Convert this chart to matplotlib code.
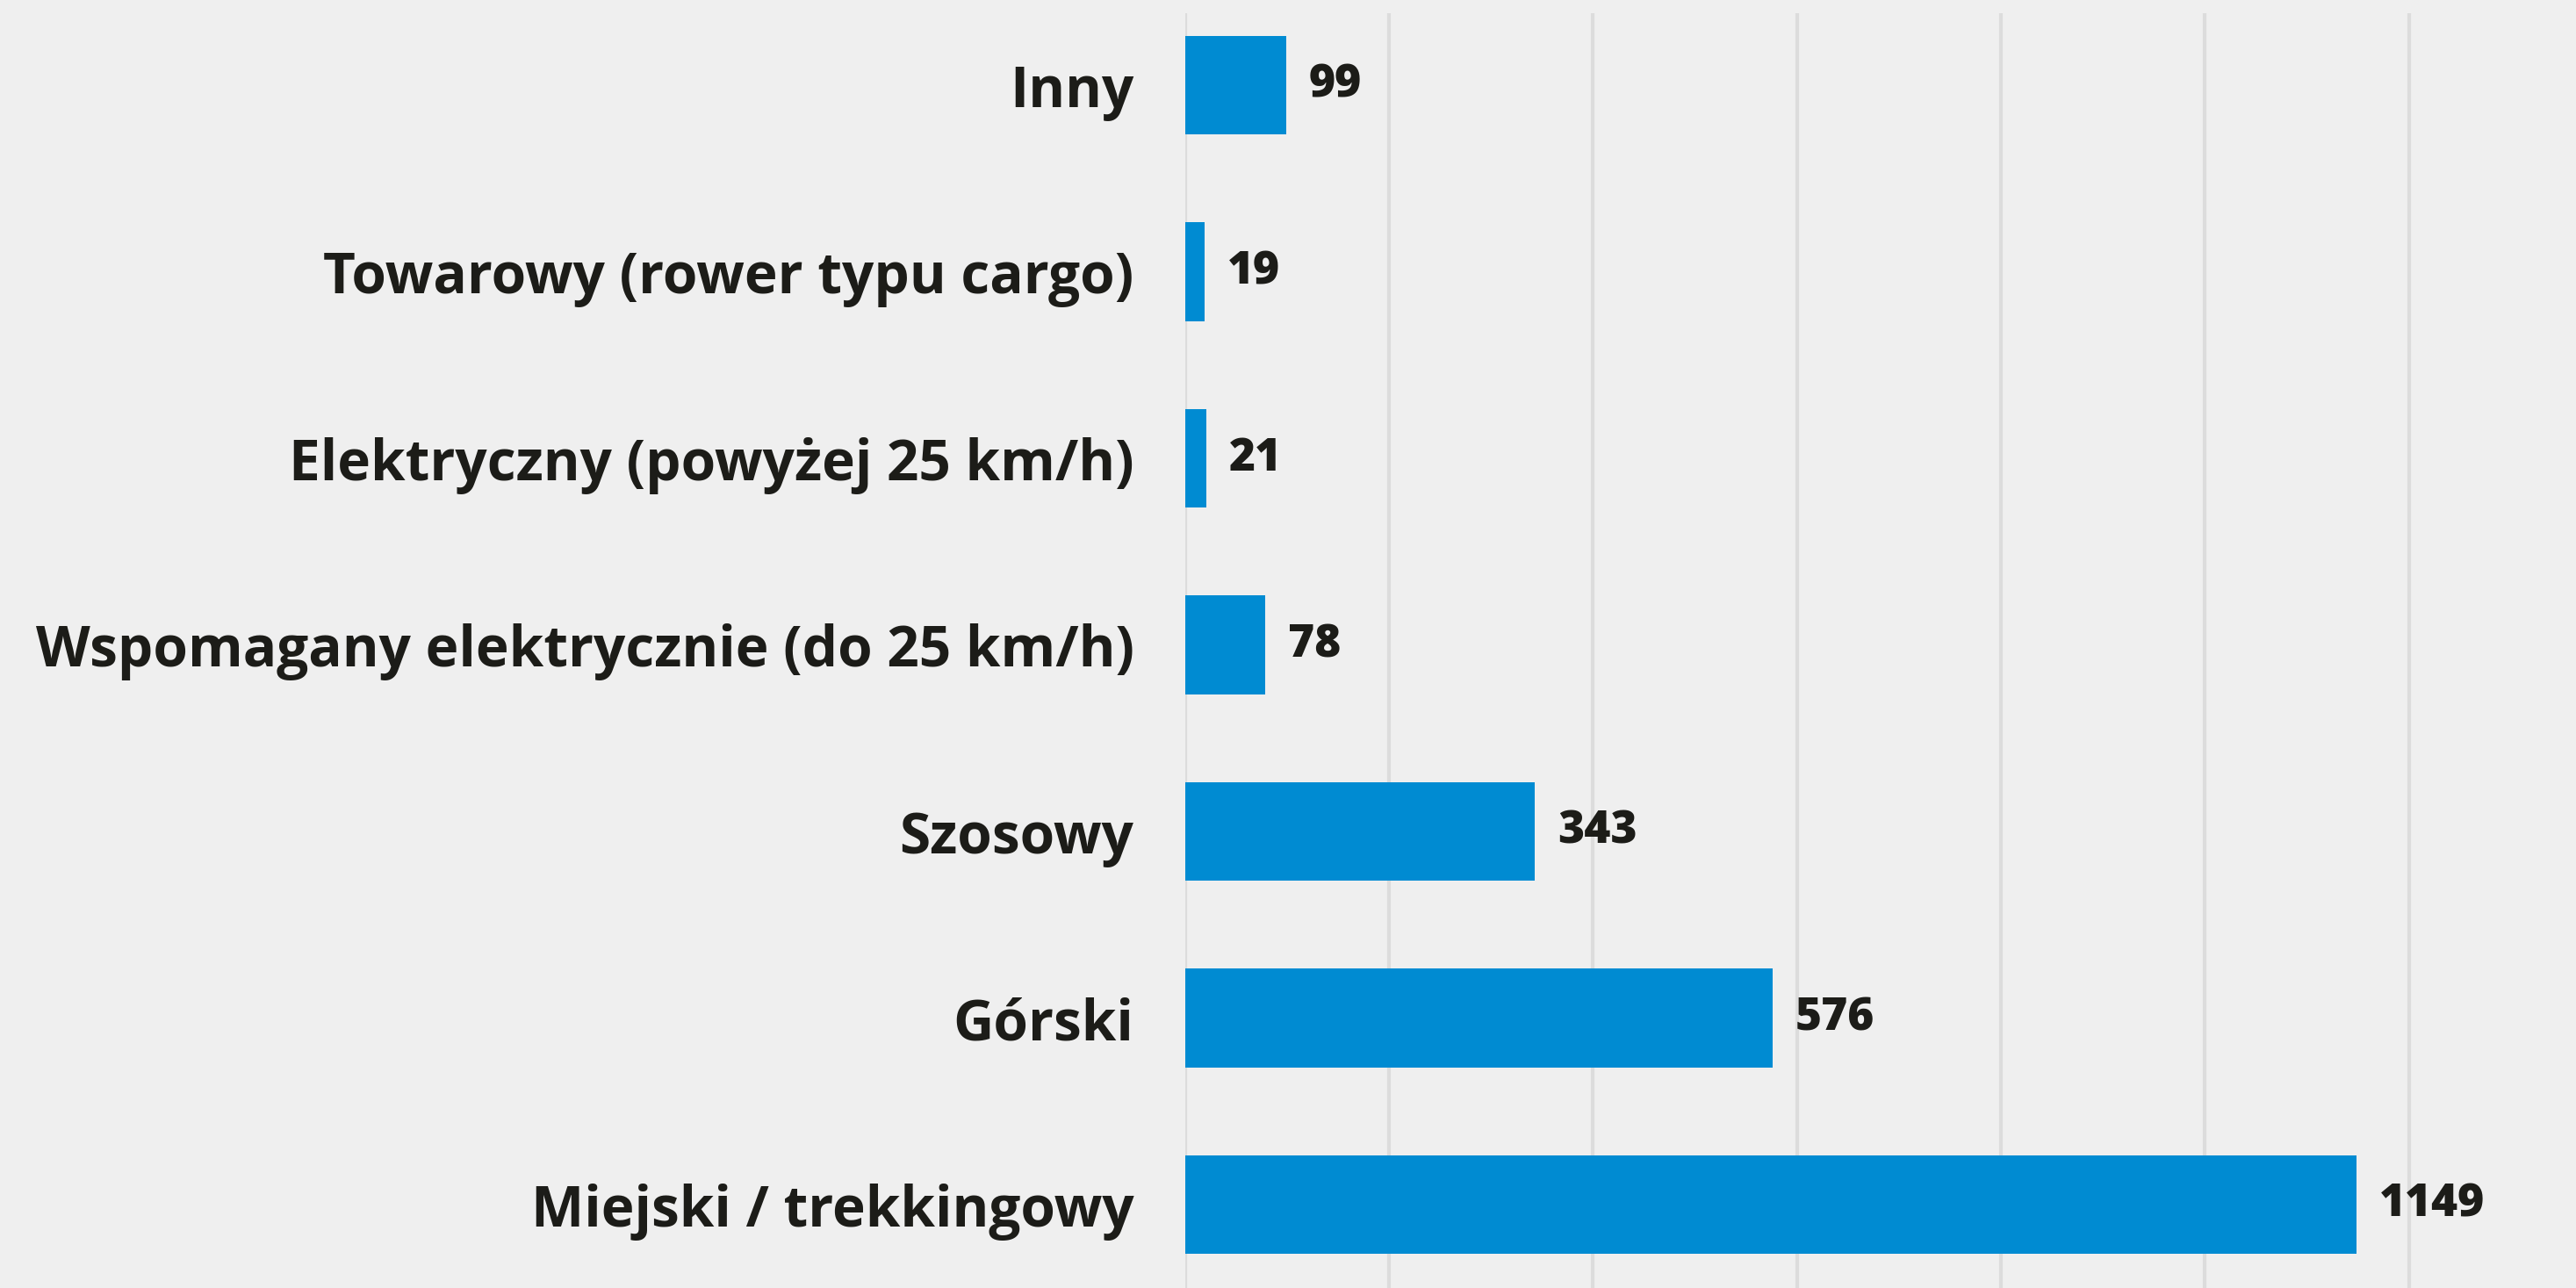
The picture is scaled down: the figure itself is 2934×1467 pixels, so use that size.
import matplotlib
matplotlib.use("Agg")
import matplotlib.pyplot as plt
import matplotlib.ticker as ticker

# kategorie od dołu do góry
categories = ["Miejski / trekkingowy", "Górski", "Szosowy",
              "Wspomagany elektrycznie (do 25 km/h)",
              "Elektryczny (powyżej 25 km/h)",
              "Towarowy (rower typu cargo)", "Inny"]
values = [1149, 576, 343, 78, 21, 19, 99]

BG = "#efefef"
BAR = "#008bd2"
TXT = "#1c1c18"
GRID = "#dcdcdc"

plt.rcParams['font.family'] = ['Open Sans', 'DejaVu Sans']

fig = plt.figure(figsize=(29.34, 14.67), dpi=100, facecolor=BG)
ax = fig.add_axes([0.4601, 0.0, 0.5399, 0.98978])
ax.set_facecolor(BG)

y = range(len(categories))
ax.barh(y, values, height=0.53, color=BAR, zorder=3)

ax.set_xlim(0, 1364)
ax.set_ylim(-0.447, 6.386)
ax.xaxis.set_major_locator(ticker.MultipleLocator(200))
ax.grid(axis='x', color=GRID, linewidth=3, zorder=0)
ax.tick_params(axis='x', length=0, labelbottom=False)
ax.tick_params(axis='y', length=0, pad=42)
ax.set_yticks(list(y))
ax.set_yticklabels(categories, fontsize=46, fontweight='bold', color=TXT)
for s in ax.spines.values():
    s.set_visible(False)

for i, v in enumerate(values):
    ax.annotate(str(v), (v, i), xytext=(26, 0), textcoords='offset pixels',
                va='center', ha='left', fontsize=37, fontweight='heavy',
                color=TXT)

fig.savefig('out.png', dpi=100, facecolor=BG)
